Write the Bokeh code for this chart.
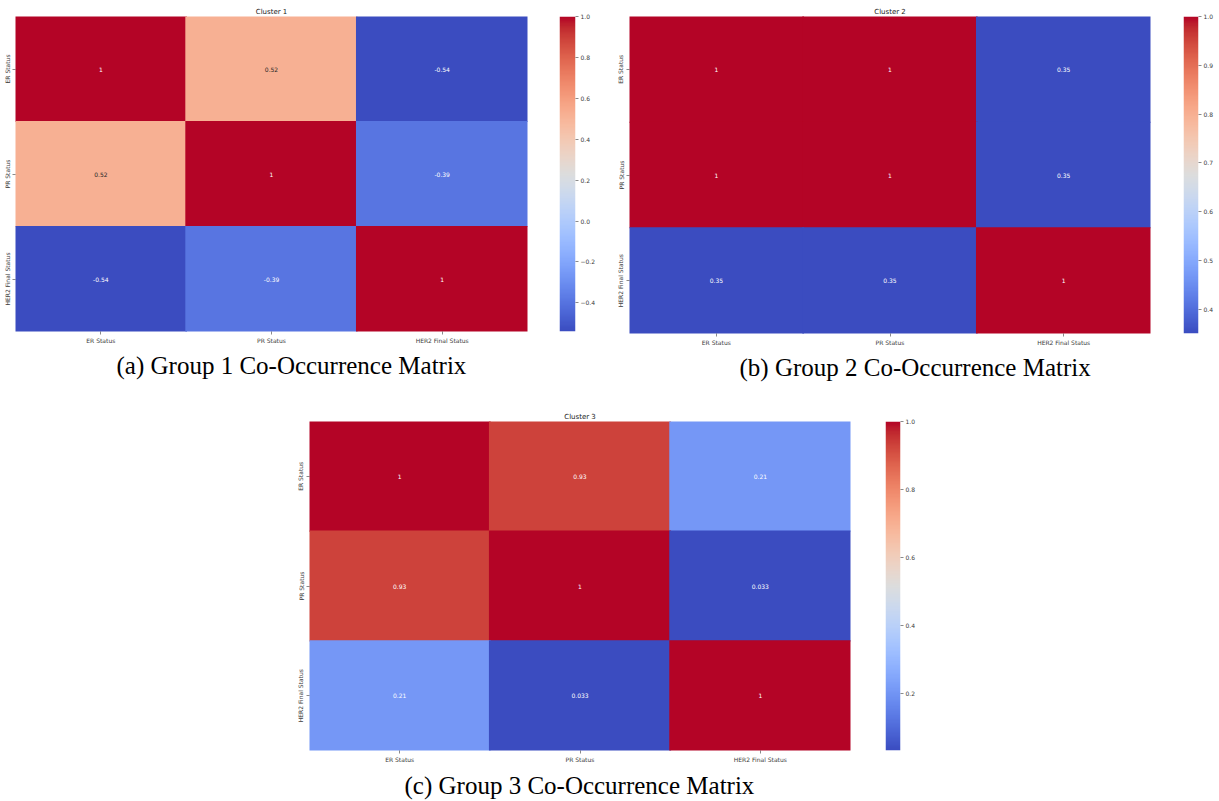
import numpy as np
from bokeh.plotting import figure
from bokeh.models import (ColumnDataSource, LinearColorMapper, FixedTicker,
                          Range1d, Spacer, Title)
from bokeh.layouts import row, column
from bokeh.embed import file_html
from bokeh.resources import INLINE
from bokeh.core.properties import value

# ---------------- data ----------------
features = ["ER Status", "PR Status", "HER2 Final Status"]

cluster1 = [[1.0, 0.52, -0.54],
            [0.52, 1.0, -0.39],
            [-0.54, -0.39, 1.0]]
cluster2 = [[1.0, 1.0, 0.35],
            [1.0, 1.0, 0.35],
            [0.35, 0.35, 1.0]]
cluster3 = [[1.0, 0.93, 0.21],
            [0.93, 1.0, 0.033],
            [0.21, 0.033, 1.0]]

titles = ["Cluster 1", "Cluster 2", "Cluster 3"]
captions = ["(a) Group 1 Co-Occurrence Matrix",
            "(b) Group 2 Co-Occurrence Matrix",
            "(c) Group 3 Co-Occurrence Matrix"]

cb1_ticks = [-0.4, -0.2, 0.0, 0.2, 0.4, 0.6, 0.8, 1.0]
cb1_labels = ["\u22120.4", "\u22120.2", "0.0", "0.2", "0.4", "0.6", "0.8", "1.0"]
cb2_ticks = [0.4, 0.5, 0.6, 0.7, 0.8, 0.9, 1.0]
cb2_labels = ["0.4", "0.5", "0.6", "0.7", "0.8", "0.9", "1.0"]
cb3_ticks = [0.2, 0.4, 0.6, 0.8, 1.0]
cb3_labels = ["0.2", "0.4", "0.6", "0.8", "1.0"]

# ---------------- coolwarm palette (style) ----------------
_pos = np.linspace(0, 1, 33)
_r = [0.2298057, 0.26623388, 0.30386891, 0.342804478, 0.38301334, 0.424369608, 0.46666708,
      0.509635204, 0.552953156, 0.596262162, 0.639176211, 0.681291281, 0.722193294,
      0.761464949, 0.798691636, 0.833466556, 0.865395197, 0.897787179, 0.924127593,
      0.944468518, 0.958852946, 0.96732803, 0.969954137, 0.966811177, 0.958003065,
      0.943660866, 0.923944917, 0.89904617, 0.869186849, 0.834620542, 0.795631745,
      0.752534934, 0.705673158]
_g = [0.298717966, 0.353094838, 0.406535296, 0.458757618, 0.50941904, 0.558148092,
      0.604562568, 0.648280772, 0.688929332, 0.726149107, 0.759599947, 0.788964712,
      0.813952739, 0.834302879, 0.849786142, 0.860207984, 0.86541021, 0.848937047,
      0.827384882, 0.800927443, 0.769767752, 0.734132809, 0.694266682, 0.650421156,
      0.602842431, 0.551750968, 0.49730856, 0.439559467, 0.378313092, 0.312874446,
      0.24128379, 0.157246067, 0.01555616]
_b = [0.753683153, 0.801466763, 0.84495867, 0.883725899, 0.917387822, 0.945619588,
      0.968154911, 0.98478814, 0.995375608, 0.999836203, 0.998151185, 0.990363227,
      0.976574709, 0.956945269, 0.931688648, 0.901068838, 0.865395561, 0.820880546,
      0.774508472, 0.726736146, 0.678007945, 0.628751763, 0.579375448, 0.530263762,
      0.481775914, 0.434243684, 0.387970225, 0.343229596, 0.300267182, 0.259301199,
      0.21931898, 0.184, 0.150232812]
_t = np.linspace(0, 1, 256)
PALETTE = ["#%02x%02x%02x" % (int(round(255 * np.interp(t, _pos, _r))),
                              int(round(255 * np.interp(t, _pos, _g))),
                              int(round(255 * np.interp(t, _pos, _b)))) for t in _t]

TICK_FONT = "DejaVu Sans"
TICK_COLOR = "#3a3a3a"


def color_for(v, vmin, vmax):
    idx = int((v - vmin) / (vmax - vmin) * 256)
    idx = max(0, min(255, idx))
    return PALETTE[idx]


def text_color(hexcol):
    rgb = [int(hexcol[i:i + 2], 16) / 255 for i in (1, 3, 5)]
    lin = [c / 12.92 if c <= 0.03928 else ((c + 0.055) / 1.055) ** 2.4 for c in rgb]
    lum = 0.2126 * lin[0] + 0.7152 * lin[1] + 0.0722 * lin[2]
    return "#262626" if lum > 0.408 else "#ffffff"


def style_axis(ax):
    ax.axis_line_color = None
    ax.major_tick_out = 3
    ax.major_tick_in = 0
    ax.major_tick_line_color = TICK_COLOR
    ax.major_tick_line_width = 0.6
    ax.minor_tick_line_color = None
    ax.major_label_text_font = TICK_FONT
    ax.major_label_text_font_size = "6px"
    ax.major_label_text_color = TICK_COLOR
    ax.major_label_standoff = 2


def heatmap(mat, title, caption, fw, fh, bl, bt, br, bb, cap_off, cap_standoff):
    vmin = min(min(r) for r in mat)
    vmax = max(max(r) for r in mat)
    xs, ys, vs, ts, tcs = [], [], [], [], []
    for i, rname in enumerate(features):
        for j, cname in enumerate(features):
            v = mat[i][j]
            xs.append(cname)
            ys.append(rname)
            vs.append(v)
            ts.append(f"{v:.2g}")
            tcs.append(text_color(color_for(v, vmin, vmax)))
    src = ColumnDataSource(dict(x=xs, y=ys, v=vs, t=ts, tc=tcs))
    mapper = LinearColorMapper(palette=PALETTE, low=vmin, high=vmax)
    p = figure(x_range=features, y_range=features[::-1],
               frame_width=fw, frame_height=fh,
               min_border_left=bl, min_border_top=bt, min_border_right=br, min_border_bottom=bb,
               output_backend="svg", toolbar_location=None, tools="",
               outline_line_color=None, title=title)
    p.title.align = "center"
    p.title.text_font = TICK_FONT
    p.title.text_font_size = "7px"
    p.title.text_font_style = "normal"
    p.title.text_color = "#222222"
    p.title.standoff = 1
    p.rect(x="x", y="y", width=1.01, height=1.01, source=src,
           fill_color={"field": "v", "transform": mapper}, line_color=None)
    p.text(x="x", y="y", text="t", source=src, text_color="tc",
           text_align="center", text_baseline="middle",
           text_font=value(TICK_FONT), text_font_size=value("6px"))
    p.grid.visible = False
    style_axis(p.xaxis[0])
    style_axis(p.yaxis[0])
    p.yaxis.major_label_orientation = "vertical"
    p.add_layout(Title(text=caption, align="left", offset=cap_off, standoff=cap_standoff,
                       text_font="Liberation Serif", text_font_size="25px",
                       text_font_style="normal", text_color="#000000"), "below")
    return p


def colorbar(vmin, vmax, ticks, labels, fw, fh, bt, br, bb):
    c = figure(x_range=Range1d(0, 1), y_range=Range1d(vmin, vmax),
               frame_width=fw, frame_height=fh,
               min_border_left=0, min_border_top=bt, min_border_right=br, min_border_bottom=bb,
               y_axis_location="right",
               output_backend="svg", toolbar_location=None, tools="",
               outline_line_color=None)
    grad = np.linspace(vmin, vmax, 256).reshape(256, 1)
    c.image(image=[grad], x=0, y=vmin, dw=1, dh=vmax - vmin,
            color_mapper=LinearColorMapper(palette=PALETTE, low=vmin, high=vmax))
    c.xaxis.visible = False
    c.grid.visible = False
    ax = c.yaxis[0]
    ax.ticker = FixedTicker(ticks=ticks)
    ax.major_label_overrides = dict(zip(ticks, labels))
    style_axis(ax)
    return c


def lims(m):
    return min(min(r) for r in m), max(max(r) for r in m)


v1 = lims(cluster1)
v2 = lims(cluster2)
v3 = lims(cluster3)

pA = heatmap(cluster1, titles[0], captions[0], 512, 315, 15, 16, 32, 73, 101, 6)
cA = colorbar(v1[0], v1[1], cb1_ticks, cb1_labels, 16, 315, 16, 39, 73)
pB = heatmap(cluster2, titles[1], captions[1], 521, 317, 15, 14, 33, 73, 110, 6)
cB = colorbar(v2[0], v2[1], cb2_ticks, cb2_labels, 15, 317, 14, 19, 73)
pC = heatmap(cluster3, titles[2], captions[2], 541, 329, 15, 17, 35, 50, 95, 8)
cC = colorbar(v3[0], v3[1], cb3_ticks, cb3_labels, 15, 329, 17, 30, 50)

layout = column(row(pA, cA, pB, cB),
                row(Spacer(width=294, height=396), pC, cC))

open("out.html", "w").write(file_html(layout, INLINE))
